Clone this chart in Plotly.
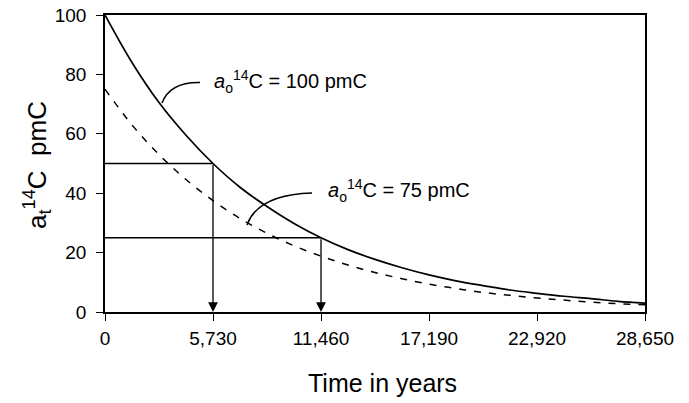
import plotly.graph_objects as go

# Data
years = [0, 1432, 2865, 4297, 5730, 7162, 8595, 10027, 11460, 12892, 14325,
         15757, 17190, 18622, 20055, 21487, 22920, 24352, 25785, 27217, 28650]
a_100 = [100, 84, 70.5, 59.5, 50, 42, 35.5, 29.8, 25, 21, 17.7,
         14.9, 12.5, 10.5, 8.9, 7.4, 6.3, 5.3, 4.5, 3.6, 3.0]
a_75 = [75, 63, 53, 44.6, 37.5, 31.5, 26.5, 22.3, 18.8, 15.8, 13.3,
        11.2, 9.4, 7.9, 6.6, 5.6, 4.7, 4.0, 3.3, 2.8, 2.4]
half_lives = [5730, 11460]
half_values = [50, 25]
x_ticks = [0, 5730, 11460, 17190, 22920, 28650]
x_tick_labels = ["0", "5,730", "11,460", "17,190", "22,920", "28,650"]
y_ticks = [0, 20, 40, 60, 80, 100]

FONT = "Liberation Sans, Arial, sans-serif"

fig = go.Figure()
fig.add_trace(go.Scatter(x=years, y=a_100, mode="lines",
                         line=dict(color="black", width=1.7, shape="spline"),
                         showlegend=False, hoverinfo="skip"))
fig.add_trace(go.Scatter(x=years, y=a_75, mode="lines",
                         line=dict(color="black", width=1.5, dash="7px,8px", shape="spline"),
                         showlegend=False, hoverinfo="skip"))

# horizontal guide lines and down arrows
for hx, hy in zip(half_lives, half_values):
    fig.add_trace(go.Scatter(x=[0, hx], y=[hy, hy], mode="lines",
                             line=dict(color="black", width=1.3),
                             showlegend=False, hoverinfo="skip"))
    fig.add_annotation(x=hx, y=0, ax=hx, ay=hy, xref="x", yref="y",
                       axref="x", ayref="y", text="", showarrow=True,
                       arrowhead=2, arrowsize=1.5, arrowwidth=1.3,
                       arrowcolor="black", standoff=0)

# leader lines
fig.add_shape(type="path", path="M 3024,70.4 Q 3449,77.5 5041,77.3",
              line=dict(color="black", width=1.5), xref="x", yref="y")
fig.add_shape(type="path", path="M 7535,29.3 Q 8118,39.6 10984,40.1",
              line=dict(color="black", width=1.5), xref="x", yref="y")

fig.add_annotation(x=5700, y=77.6, xref="x", yref="y", xanchor="left",
                   text="<i>a</i><sub>o</sub><sup>14</sup>C = 100 pmC",
                   showarrow=False, font=dict(size=20, color="black", family=FONT))
fig.add_annotation(x=11700, y=41.0, xref="x", yref="y", xanchor="left",
                   text="<i>a</i><sub>o</sub><sup>14</sup>C = 75 pmC",
                   showarrow=False, font=dict(size=20, color="black", family=FONT))

# axis titles
fig.add_annotation(x=-0.126, y=0.495, xref="paper", yref="paper",
                   xanchor="center", yanchor="middle",
                   text="a<sub>t</sub><sup>14</sup>C  pmC", textangle=-90,
                   showarrow=False, font=dict(size=26, color="black", family=FONT))
fig.add_annotation(x=0.513, y=-0.239, xref="paper", yref="paper",
                   xanchor="center", yanchor="middle",
                   text="Time in years",
                   showarrow=False, font=dict(size=25, color="black", family=FONT))

fig.update_layout(
    width=689, height=403,
    margin=dict(l=105, r=44, t=15, b=91, autoexpand=False),
    paper_bgcolor="white", plot_bgcolor="white",
    font=dict(family=FONT, color="black"),
    showlegend=False,
)
fig.update_xaxes(range=[0, 28650], tickvals=x_ticks, ticktext=x_tick_labels,
                 showgrid=False, zeroline=False, showline=True, mirror=True,
                 linecolor="black", linewidth=1.5, ticks="outside", ticklen=7,
                 tickcolor="black", tickwidth=1.3, tickfont=dict(size=19),
                 ticklabelstandoff=1, automargin=False)
fig.update_yaxes(range=[0, 100], tickvals=y_ticks,
                 showgrid=False, zeroline=False, showline=True, mirror=True,
                 linecolor="black", linewidth=1.5, ticks="outside", ticklen=7,
                 tickcolor="black", tickwidth=1.3, tickfont=dict(size=19),
                 ticklabelstandoff=6, automargin=False)

fig.write_html("out.html", config={"displayModeBar": False},
               post_script="document.body.style.margin='0';")
